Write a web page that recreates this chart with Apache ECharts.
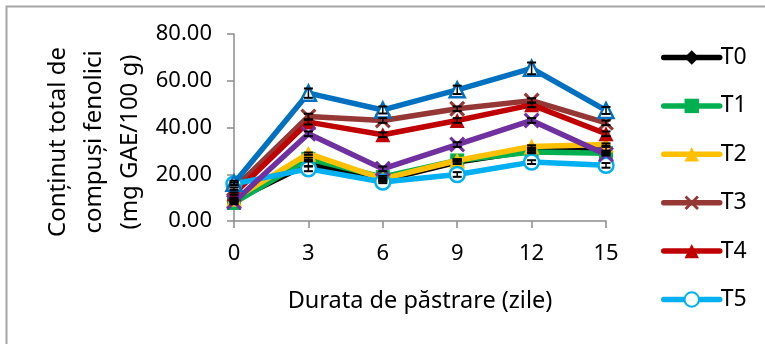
<!DOCTYPE html>
<html><head><meta charset="utf-8">
<script src="https://cdn.jsdelivr.net/npm/echarts@6/dist/echarts.min.js"></script>
<style>html,body{margin:0;padding:0;background:#fff}#c{width:765px;height:344px}</style>
</head><body><div id="c"></div>
<script>
var categories = ['0','3','6','9','12','15'];
var T0 = [8.8, 24.5, 17.4, 25.2, 30.0, 30.9];
var T1 = [7.7, 26.6, 18.8, 25.9, 29.5, 29.0];
var T2 = [9.5, 28.8, 18.0, 25.9, 31.9, 32.7];
var T3 = [13.8, 44.7, 43.0, 48.0, 51.5, 42.0];
var T4 = [11.7, 42.3, 36.9, 43.0, 49.7, 37.3];
var T5 = [15.9, 22.3, 16.7, 19.9, 25.2, 23.8];
var T6 = [8.1, 37.3, 22.3, 32.7, 43.0, 28.5];
var T7 = [16.2, 54.7, 47.5, 56.1, 65.3, 47.3];
var errT0 = [0.5, 1, 0.5, 0.8, 0.8, 0.8];
var errT1 = [0.5, 0.5, 0.5, 0.5, 0.5, 0.5];
var errT2 = [0.5, 0.5, 0.5, 0.5, 0.5, 0.5];
var errT3 = [0.5, 1.2, 1, 1, 1, 1];
var errT4 = [0.5, 1, 1, 1, 1, 1];
var errT5 = [0.5, 1, 0.5, 1, 0.8, 1];
var errT6 = [0.5, 1, 1, 1, 1, 0.5];
var errT7 = [1, 2, 1.5, 1.8, 2.5, 1.5];
var yTicks = [0, 20, 40, 60, 80];

var FONT = 'Noto Sans';
var X_PATH = 'path://M0,1.4 L1.4,0 L5,3.6 L8.6,0 L10,1.4 L6.4,5 L10,8.6 L8.6,10 L5,6.4 L1.4,10 L0,8.6 L3.6,5 Z';

var defs = [
  {name:'T0', data:T0, err:errT0, color:'#000000', symbol:'diamond', size:14},
  {name:'T1', data:T1, err:errT1, color:'#00B050', symbol:'rect', size:14},
  {name:'T2', data:T2, err:errT2, color:'#FFC000', symbol:'triangle', size:16},
  {name:'T3', data:T3, err:errT3, color:'#953735', symbol:X_PATH, size:16},
  {name:'T4', data:T4, err:errT4, color:'#C00000', symbol:'triangle', size:15},
  {name:'T5', data:T5, err:errT5, color:'#00B0F0', symbol:'circle', size:15, hollow:true},
  {name:'T6', data:T6, err:errT6, color:'#7030A0', symbol:X_PATH, size:16},
  {name:'T7', data:T7, err:errT7, color:'#0070C0', symbol:'triangle', size:15, hollow:true}
];

var series = [];
defs.forEach(function(d, i){
  series.push({
    name: d.name, type: 'line', data: d.data, z: 2 + i,
    symbol: d.symbol, symbolSize: d.size, showSymbol: true, showAllSymbol: true,
    lineStyle: {color: d.color, width: 5.5},
    itemStyle: d.hollow ? {color: '#fff', borderColor: d.color, borderWidth: 2.5} : {color: d.color, borderColor: d.color, borderWidth: 0},
    emphasis: {disabled: true}, animation: false
  });
  series.push({
    name: d.name + ' err', type: 'custom', z: 20, silent: true, animation: false,
    data: d.data.map(function(v, k){ return [k, v - d.err[k], v + d.err[k]]; }),
    renderItem: function(params, api){
      var lo = api.coord([api.value(0), api.value(1)]);
      var hi = api.coord([api.value(0), api.value(2)]);
      var w = 4.5;
      var st = {stroke: '#000', lineWidth: 1.5};
      var st2 = {stroke: '#000', lineWidth: 2};
      return {type: 'group', children: [
        {type:'line', shape:{x1:hi[0], y1:hi[1], x2:lo[0], y2:lo[1]}, style: st},
        {type:'line', shape:{x1:hi[0]-w, y1:hi[1], x2:hi[0]+w, y2:hi[1]}, style: st2},
        {type:'line', shape:{x1:lo[0]-w, y1:lo[1], x2:lo[0]+w, y2:lo[1]}, style: st2}
      ]};
    }
  });
});

var chart = echarts.init(document.getElementById('c'), null, {renderer: 'canvas'});
chart.setOption({
  backgroundColor: '#fff',
  animation: false,
  textStyle: {fontFamily: FONT},
  grid: {left: 234, right: 159, top: 34, bottom: 123},
  xAxis: {
    type: 'category', data: categories, boundaryGap: false,
    name: 'Durata de păstrare (zile)', nameLocation: 'middle', nameGap: 68,
    nameTextStyle: {fontFamily: FONT, fontSize: 23.5, color: '#000'},
    axisLine: {lineStyle: {color: '#8c8c8c', width: 1.5}},
    axisTick: {show: true, alignWithLabel: true, length: 7, lineStyle: {color: '#8c8c8c', width: 1.5}},
    axisLabel: {fontFamily: FONT, fontSize: 22, color: '#000', margin: 22},
    splitLine: {show: false}
  },
  yAxis: {
    type: 'value', min: 0, max: 80, interval: 20,
    axisLine: {show: true, lineStyle: {color: '#8c8c8c', width: 1.5}},
    axisTick: {show: true, length: 7, lineStyle: {color: '#8c8c8c', width: 1.5}},
    axisLabel: {fontFamily: FONT, fontSize: 22, color: '#000', margin: 22,
      formatter: function(v){ return v.toFixed(2); }},
    splitLine: {show: false}
  },
  legend: {
    orient: 'vertical', left: 656, top: 41,
    data: ['T0','T1','T2','T3','T4','T5'],
    itemWidth: 56, itemHeight: 18, itemGap: 25.4,
    lineStyle: {width: 5.5, cap: 'round'},
    textStyle: {fontFamily: FONT, fontSize: 23, color: '#000', padding: [0, 0, 0, -4]},
    selectedMode: false
  },
  graphic: [
    {type: 'rect', left: 4, top: 4, shape: {x: 0, y: 0, width: 900, height: 500},
     style: {fill: 'none', stroke: '#a6a6a6', lineWidth: 2}, silent: true, z: -10},
    {type: 'text', x: 94, y: 142, rotation: Math.PI / 2,
     style: {text: 'Conținut total de\ncompuși fenolici\n(mg GAE/100 g)', fill: '#000',
       font: '24px "Noto Sans"', align: 'center', verticalAlign: 'middle', lineHeight: 36}}
  ],
  series: series
});
</script></body></html>
